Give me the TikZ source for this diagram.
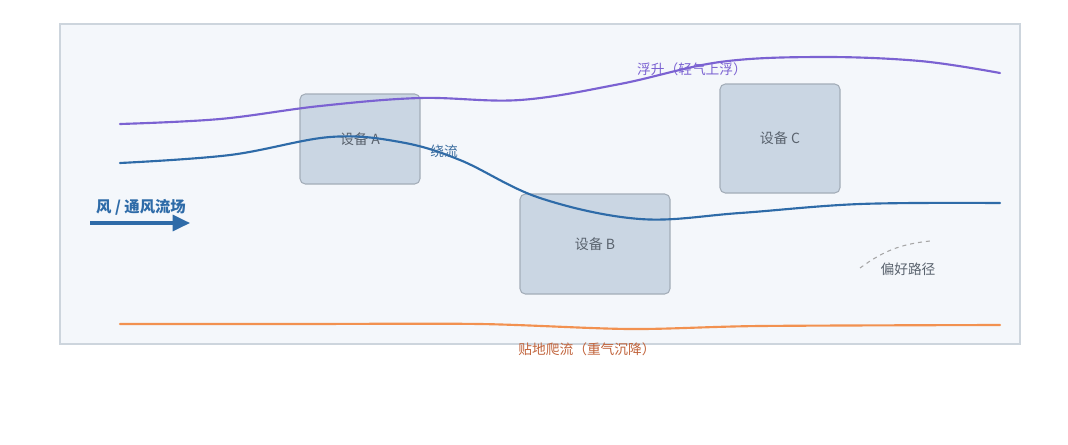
\documentclass[tikz,border=0pt]{standalone}
\usepackage{fontspec}
\setmainfont{Noto Sans CJK SC}
\usetikzlibrary{arrows.meta,positioning}
\definecolor{panelbg}{HTML}{F4F7FB}
\definecolor{panelln}{HTML}{CDD5DD}
\definecolor{devbg}{HTML}{CAD6E3}
\definecolor{devln}{HTML}{A3ADB8}
\definecolor{flowblue}{HTML}{2E6BA8}
\definecolor{flowpurple}{HTML}{7B62D2}
\definecolor{floworange}{HTML}{F29150}
\definecolor{labelorange}{HTML}{C0623A}
\definecolor{txtgray}{HTML}{5A636E}

\begin{document}
\begin{tikzpicture}[x=0.75pt, y=-0.75pt,
	dev/.style={draw=devln, fill=devbg, rounded corners=4pt, line width=0.8pt,
		font=\fontsize{10.5}{12}\selectfont, text=txtgray, inner sep=0pt},
	flow/.style={line width=1.6pt, line cap=round},
	lbl/.style={font=\fontsize{10.3}{12}\selectfont, inner sep=1pt}]
	\useasboundingbox (0,0) rectangle (1068,444);
	\draw[panelln, fill=panelbg, line width=0.8pt] (60,24) rectangle (1020,344);
	\node[dev, minimum width=90pt, minimum height=67.5pt] (devA) at (360,139) {设备 A};
	\node[dev, minimum width=112.5pt, minimum height=75pt] (devB) at (595,244) {设备 B};
	\node[dev, minimum width=90pt, minimum height=81.75pt] (devC) at (780,138.5) {设备 C};
	% flow lines
	\draw[flow, flowpurple] plot[smooth, tension=0.6] coordinates {(120,124) (220,119) (320,106) (420,98) (520,100) (620,84) (720,62) (820,57) (920,61) (1000,73)};
	\draw[flow, flowblue] plot[smooth, tension=0.6] coordinates {(120,163) (230,155) (330,137) (400,142) (460,160) (540,198) (640,219) (740,213) (860,204) (1000,203)};
	\draw[flow, floworange] plot[smooth, tension=0.5] coordinates {(120,324) (300,324) (480,324) (630,329) (760,326) (1000,325)};
	\node[lbl, text=flowpurple] (lift) at (692,69) {浮升（轻气上浮）};
	\node[lbl, text=flowblue!80!gray] (around) at (444,151) {绕流};
	\node[lbl, text=labelorange] (creep) at (587,349) {贴地爬流（重气沉降）};
	% wind
	\node[font=\fontsize{11.5}{13}\selectfont\bfseries, text=flowblue] (wind) at (141,207) {风 / 通风流场};
	\coordinate (w0) at (90,223);
	\coordinate (w1) at (190,223);
	\draw[flowblue, line width=2.4pt, -{Triangle[length=13pt, width=12pt]}] (w0) -- (w1);
	% preferred path
	\node[lbl, text=txtgray] (pref) at (908,269) {偏好路径};
	\coordinate (p0) at (860,268);
	\coordinate (p1) at (930,241);
	\draw[gray!70, dashed, line width=0.8pt] (p0) to[bend left=15] (p1);
\end{tikzpicture}
\end{document}
